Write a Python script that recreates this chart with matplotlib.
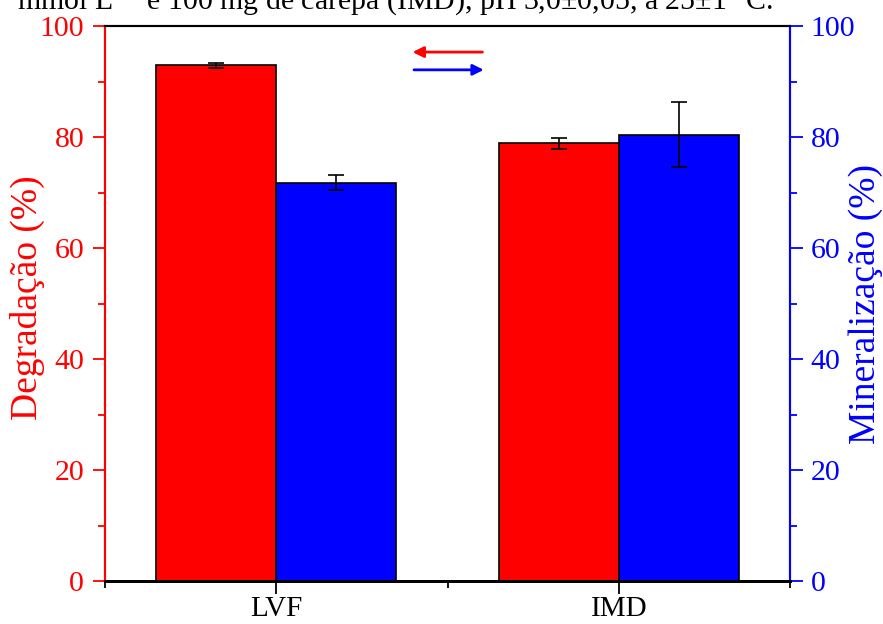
import matplotlib
matplotlib.use("Agg")
import matplotlib.pyplot as plt
from matplotlib.ticker import MultipleLocator, FixedLocator
import numpy as np

categories = ["LVF", "IMD"]
degradacao = [92.9, 78.9]
degradacao_err = [0.5, 1.0]
mineralizacao = [71.8, 80.4]
mineralizacao_err = [1.4, 5.85]
title_text = "mmol L$^{-1}$ e 100 mg de carepa (IMD), pH 3,0±0,05, a 25±1 °C."

plt.rcParams['font.family'] = ['Liberation Serif', 'DejaVu Serif']
plt.rcParams['mathtext.fontset'] = 'stix'

fig = plt.figure(figsize=(8.83, 6.24), dpi=100)
ax = fig.add_axes([105/883, 1-581/624, 685/883, 555/624])
ax2 = ax.twinx()

x = np.arange(1, len(categories) + 1)
w = 0.35
red = '#ff0000'
blue = '#0000ff'

ax.bar(x - w/2, degradacao, width=w, color=red, edgecolor='black', linewidth=1.2,
       yerr=degradacao_err, error_kw=dict(ecolor='black', elinewidth=1.2, capsize=6, capthick=1.2), zorder=2)
ax2.bar(x + w/2, mineralizacao, width=w, color=blue, edgecolor='black', linewidth=1.2,
        yerr=mineralizacao_err, error_kw=dict(ecolor='black', elinewidth=1.2, capsize=6, capthick=1.2), zorder=2)

ax.set_xlim(0.5, 2.5)
ax.set_ylim(0, 100)
ax2.set_ylim(0, 100)

ax.set_xticks(x)
ax.set_xticklabels(categories)
ax.xaxis.set_minor_locator(FixedLocator([0.5, 1.5, 2.5]))

for a in (ax, ax2):
    a.yaxis.set_major_locator(MultipleLocator(20))
    a.yaxis.set_minor_locator(MultipleLocator(10))

ax.tick_params(axis='x', which='major', direction='out', length=9, width=1.3, labelsize=21, pad=2, colors='black')
ax.tick_params(axis='x', which='minor', direction='out', length=5, width=1.3)
ax.tick_params(axis='y', which='major', direction='out', length=9, width=1.3, labelsize=21.5, colors=red, pad=6)
ax.tick_params(axis='y', which='minor', direction='out', length=5, width=1.3, colors=red)
ax2.tick_params(axis='y', which='major', direction='out', length=9, width=1.3, labelsize=21.5, colors=blue, pad=6)
ax2.tick_params(axis='y', which='minor', direction='out', length=5, width=1.3, colors=blue)

for a in (ax, ax2):
    a.spines['left'].set_color(red)
    a.spines['right'].set_color(blue)
    a.spines['top'].set_color('black')
    a.spines['bottom'].set_color('black')
    a.spines['left'].set_linewidth(1.5)
    a.spines['right'].set_linewidth(1.5)
    a.spines['top'].set_linewidth(1.5)
    a.spines['bottom'].set_linewidth(2.0)

ax.set_ylabel("Degradação (%)", color=red, fontsize=27)
ax2.set_ylabel("Mineralização (%)", color=blue, fontsize=27)
ax.yaxis.set_label_coords((45-105)/685, 0.51)
ax2.yaxis.set_label_coords((848-105)/685, 0.50)

ax.annotate('', xy=(0.445, 0.953), xytext=(0.555, 0.953), xycoords='axes fraction',
            arrowprops=dict(arrowstyle='-|>', color=red, lw=2, mutation_scale=16))
ax.annotate('', xy=(0.557, 0.921), xytext=(0.447, 0.921), xycoords='axes fraction',
            arrowprops=dict(arrowstyle='-|>', color=blue, lw=2, mutation_scale=16))

fig.text(17/883, 1-9/624, title_text, fontsize=21.5, color='black', ha='left', va='baseline')

fig.savefig("out.png", dpi=100)
